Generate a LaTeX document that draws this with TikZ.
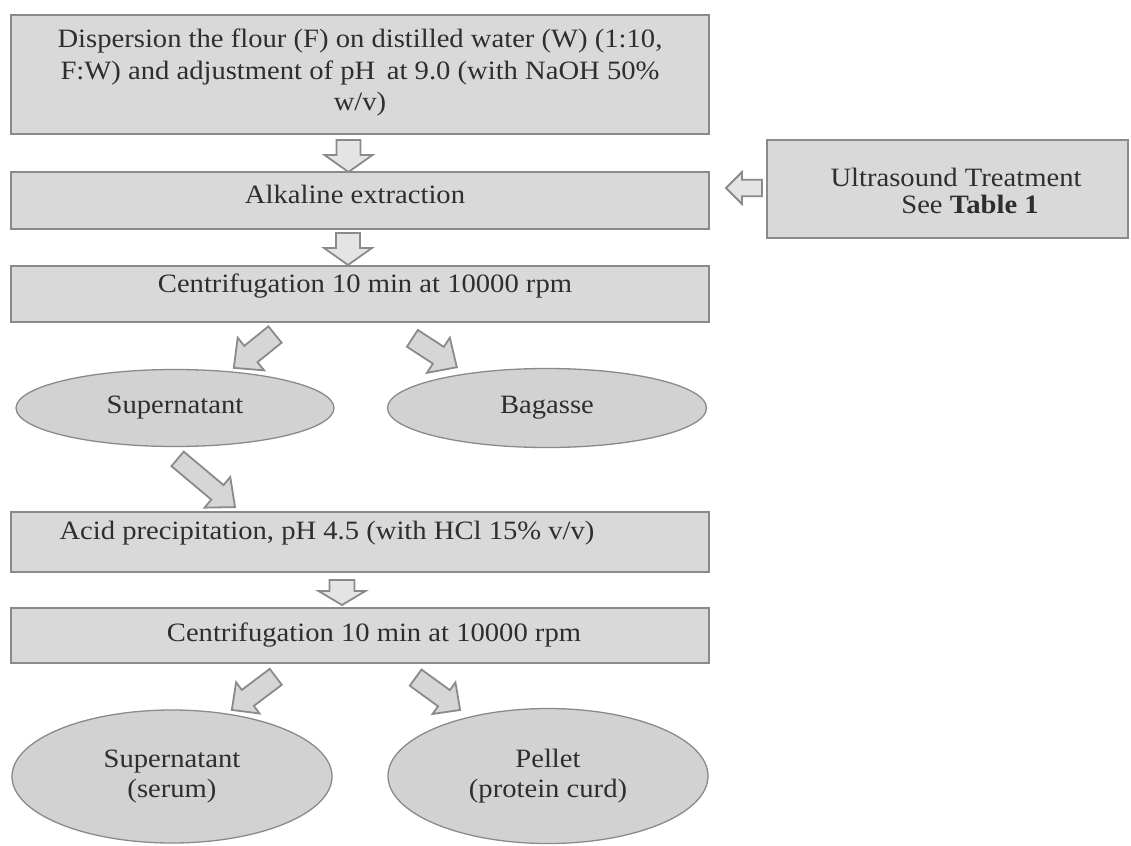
\documentclass[tikz,border=0pt]{standalone}
\usepackage{fontspec}
\setmainfont{Liberation Serif}[FakeStretch=1.08]
\usetikzlibrary{shapes.geometric,calc}
\definecolor{boxfill}{HTML}{D9D9D9}
\definecolor{ellfill}{HTML}{D2D2D2}
\definecolor{edgegray}{HTML}{8A8A8A}
\definecolor{vfill}{HTML}{E4E4E4}
\definecolor{dfill}{HTML}{D6D6D6}
\definecolor{inkgray}{HTML}{2E2E2E}
\newcommand\blockarr[7]{%
  \begin{scope}[shift={#1},rotate=#2]
    \draw[#7] ({-#3/2},{-#6}) -- ({#3/2-#4},{-#6}) -- ({#3/2-#4},{-#5}) -- ({#3/2},0)
      -- ({#3/2-#4},{#5}) -- ({#3/2-#4},{#6}) -- ({-#3/2},{#6}) -- cycle;
  \end{scope}}
\tikzset{
  procbox/.style={draw=edgegray, line width=2pt, fill=boxfill, rectangle, inner sep=0pt},
  outell/.style={draw=edgegray, line width=1.3pt, fill=ellfill, ellipse, inner sep=0pt,
    text=inkgray, align=center, font=\fontsize{26.5}{30}\selectfont},
  txt/.style={text=inkgray, align=center, inner sep=0pt, font=\fontsize{26.5}{31.5}\selectfont},
  varr/.style={draw=edgegray, line width=1.8pt, fill=vfill, line join=miter},
  darr/.style={draw=edgegray, line width=1.8pt, fill=dfill, line join=miter},
}
\begin{document}
\begin{tikzpicture}[x=1pt,y=-1pt]
\useasboundingbox (0,0) rectangle (1131,845);
% boxes
\node[procbox, minimum width=698pt, minimum height=119pt] (b1) at (360,74.5) {};
\node[procbox, minimum width=698pt, minimum height=57pt] (b2) at (360,200.5) {};
\node[procbox, minimum width=698pt, minimum height=56pt] (b3) at (360,294) {};
\node[procbox, minimum width=698pt, minimum height=60pt] (b4) at (360,542) {};
\node[procbox, minimum width=698pt, minimum height=55pt] (b5) at (360,635.5) {};
\node[procbox, minimum width=361pt, minimum height=98pt] (us) at (947.5,189) {};
% box texts
\node[txt] (t1) at ([yshift=2pt]b1.center) {Dispersion the flour (F) on distilled water (W) (1:10,\\F:W) and adjustment of pH\, at 9.0 (with NaOH 50\%\\w/v)};
\node[txt] (t2) at ([xshift=-5pt,yshift=6pt]b2.center) {Alkaline extraction};
\node[txt] (t3) at ([xshift=5pt,yshift=8pt]b3.center) {Centrifugation 10 min at 10000 rpm};
\node[txt] (t4) at ([xshift=-33pt,yshift=9pt]b4.center) {Acid precipitation, pH 4.5 (with HCl 15\% v/v)};
\node[txt] (t5) at ([xshift=14pt,yshift=0pt]b5.center) {Centrifugation 10 min at 10000 rpm};
\node[txt, font=\fontsize{26.5}{27}\selectfont] (tus) at (956,191) {Ultrasound Treatment\\\hspace*{28pt}See \textbf{Table 1}};
% ellipses
\node[outell, minimum width=318pt, minimum height=77pt] (e1) at (175,408) {Supernatant};
\node[outell, minimum width=319pt, minimum height=79pt] (e2) at (547,408) {Bagasse};
\node[outell, minimum width=320pt, minimum height=133pt] (e3) at (172,776.5) {Supernatant\\(serum)};
\node[outell, minimum width=320pt, minimum height=135pt] (e4) at (548,776) {Pellet\\(protein curd)};
% block arrows
\coordinate (a1) at (348.5,156);
\coordinate (a2) at (348,249);
\coordinate (a3) at (342,592.5);
\coordinate (ua) at (744,188);
\coordinate (d1) at (254.4,351.2);
\coordinate (d2) at (434.6,352.8);
\coordinate (d3) at (206.3,483);
\coordinate (d4) at (253.8,693.4);
\coordinate (d5) at (437.9,693.8);
\blockarr{(a1)}{-90}{32}{17}{24}{12}{varr}
\blockarr{(a2)}{-90}{32}{17}{24}{12}{varr}
\blockarr{(a3)}{-90}{25}{14}{23.5}{12.5}{varr}
\blockarr{(ua)}{180}{36}{16}{16}{8.3}{varr}
\blockarr{(d1)}{219}{53}{22}{21}{10.5}{darr}
\blockarr{(d2)}{-33}{53}{22}{21}{10}{darr}
\blockarr{(d3)}{-40}{75}{23}{20}{9.5}{darr}
\blockarr{(d4)}{217}{55}{20}{19.5}{10}{darr}
\blockarr{(d5)}{-36}{55}{20}{19.5}{10}{darr}
\end{tikzpicture}
\end{document}
